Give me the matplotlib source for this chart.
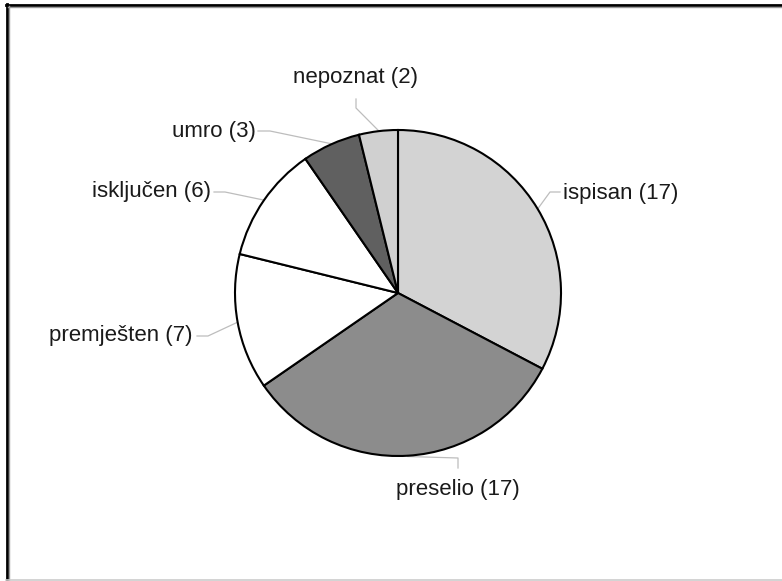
import numpy as np
import matplotlib
matplotlib.use('Agg')
import matplotlib.pyplot as plt
from matplotlib.lines import Line2D

W, H = 782, 581

labels = ['ispisan', 'preselio', 'premješten', 'isključen', 'umro', 'nepoznat']
counts = [17, 17, 7, 6, 3, 2]
colors = ['#d3d3d3', '#8c8c8c', '#ffffff', '#ffffff', '#606060', '#d0d0d0']

# pie centre and radius in pixels
cx, cy, r = 398, 293, 163

# label layout in pixels: text position, alignment, leader elbow, leader end
layout = [
    ((563, 193), 'left', (550, 192), (560, 192)),
    ((458, 489), 'center', (458, 458), (458, 468)),
    ((193, 335), 'right', (208, 336), (197, 336)),
    ((211, 192), 'right', (225, 192), (214, 192)),
    ((256, 131), 'right', (270, 131), (258, 131)),
    ((355, 78), 'center', (356, 108), (356, 99)),
]


def px(p):
    return ((p[0] - cx) / r, (cy - p[1]) / r)


plt.rcParams['font.family'] = ['Liberation Sans', 'DejaVu Sans']

fig = plt.figure(figsize=(W / 100, H / 100), dpi=100)
ax = fig.add_axes([(cx - r) / W, (H - cy - r) / H, 2 * r / W, 2 * r / H])

wedges, _ = ax.pie(counts, colors=colors, startangle=90, counterclock=False,
                   radius=1.0,
                   wedgeprops=dict(edgecolor='black', linewidth=1.5))
ax.set_xlim(-1, 1)
ax.set_ylim(-1, 1)
ax.set_aspect('equal')
ax.axis('off')

for w, lab, n, (tpos, ha, elbow, end) in zip(wedges, labels, counts, layout):
    ang = np.deg2rad((w.theta1 + w.theta2) / 2)
    start = (np.cos(ang) * 1.005, np.sin(ang) * 1.005)
    e = px(elbow)
    t = px(end)
    ax.plot([start[0], e[0], t[0]], [start[1], e[1], t[1]], color='#bdbdbd',
            linewidth=0.9, clip_on=False, zorder=0)
    tx, ty = px(tpos)
    ax.text(tx, ty, '%s (%d)' % (lab, n), ha=ha, va='center', fontsize=16,
            color='#1a1a1a', clip_on=False)

# frame around the chart
fig.add_artist(Line2D([6.5 / W, 6.5 / W], [0, 1 - 4 / H], color='black',
                      linewidth=2, transform=fig.transFigure))
fig.add_artist(Line2D([6 / W, 1], [1 - 4.5 / H, 1 - 4.5 / H], color='black',
                      linewidth=2, transform=fig.transFigure))
fig.add_artist(Line2D([8.5 / W, 8.5 / W], [0, 1 - 6 / H], color='#9a9a9a',
                      linewidth=1, transform=fig.transFigure))
fig.add_artist(Line2D([8 / W, 1], [1 - 6.5 / H, 1 - 6.5 / H], color='#9a9a9a',
                      linewidth=1, transform=fig.transFigure))
fig.add_artist(Line2D([6 / W, 1], [1.5 / H, 1.5 / H], color='#cccccc',
                      linewidth=1.2, transform=fig.transFigure))

fig.savefig('out.png', dpi=100)
